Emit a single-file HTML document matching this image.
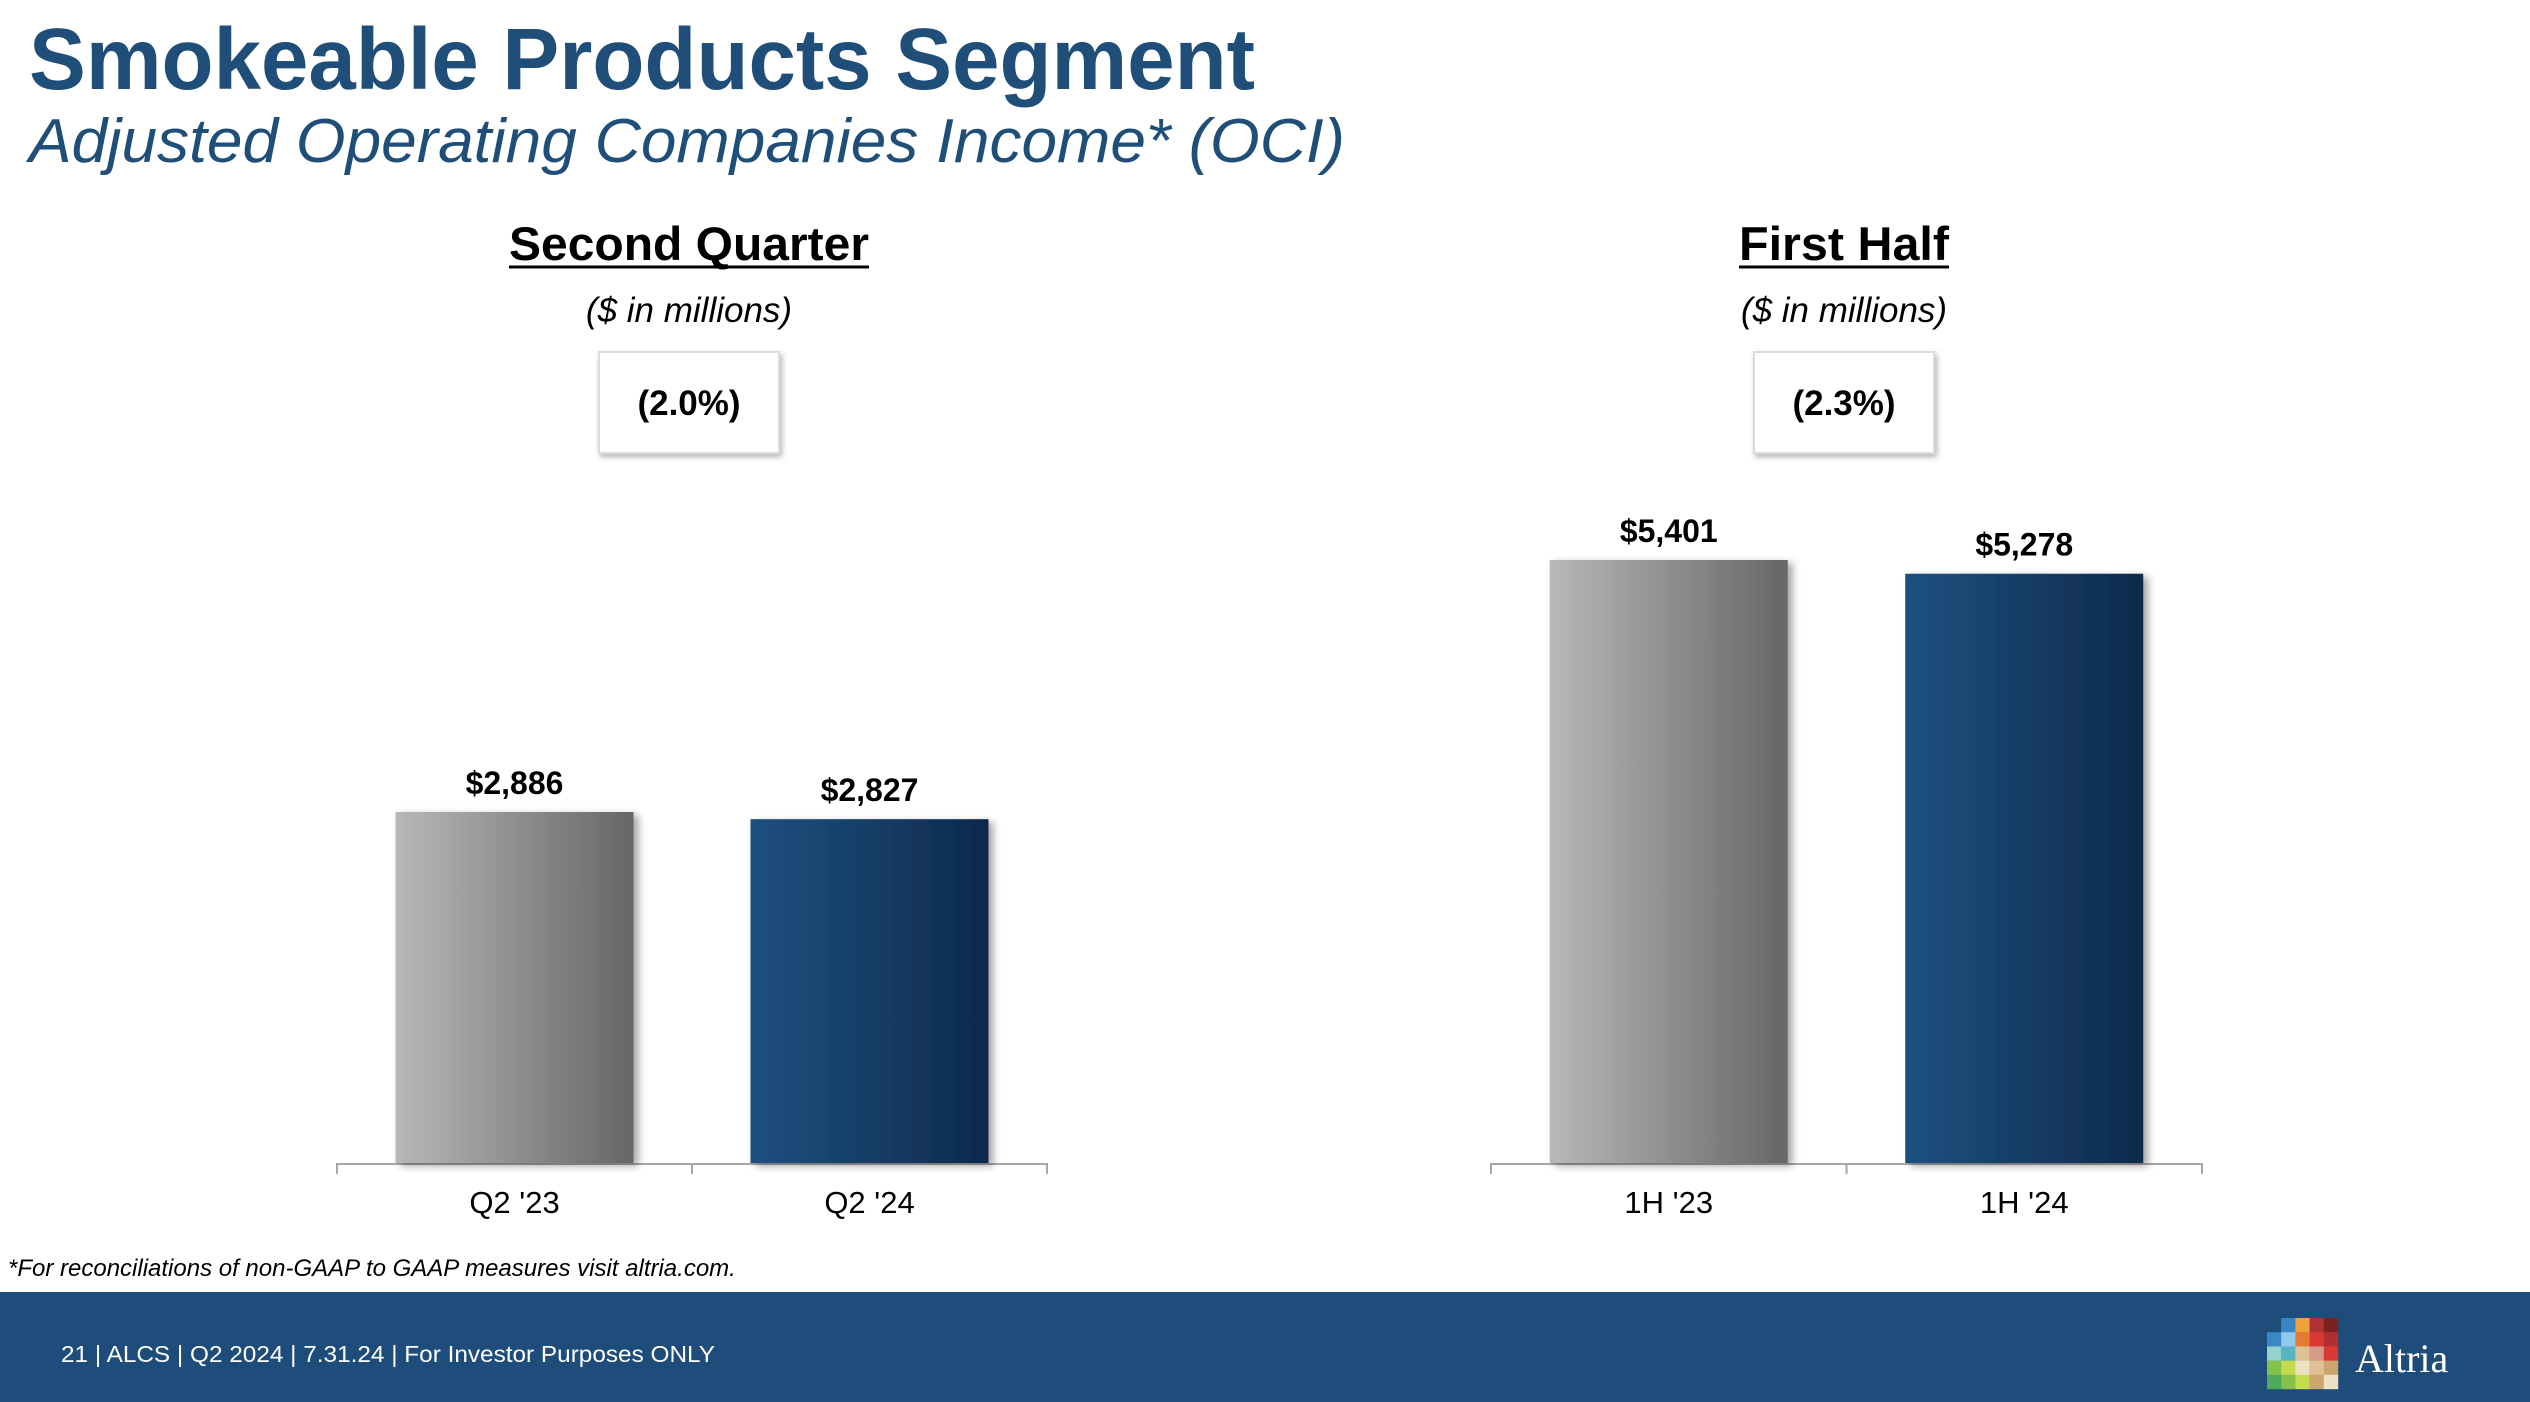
<!DOCTYPE html>
<html><head><meta charset="utf-8"><style>
html,body{margin:0;padding:0;background:#fff;width:2530px;height:1402px;overflow:hidden}
svg{display:block}
text{font-family:"Liberation Sans",Arial,sans-serif}
</style></head><body>
<svg id="s" width="2530" height="1402" viewBox="0 0 2530 1402" xmlns="http://www.w3.org/2000/svg">
<defs>
<linearGradient id="gGray" x1="0" x2="1" y1="0" y2="0"><stop offset="0" stop-color="#b8b8b8"/><stop offset="1" stop-color="#666"/></linearGradient>
<linearGradient id="gBlue" x1="0" x2="1" y1="0" y2="0"><stop offset="0" stop-color="#1f5080"/><stop offset="1" stop-color="#0d2a4c"/></linearGradient>
<filter id="sh" x="-20%" y="-20%" width="140%" height="140%"><feDropShadow dx="5" dy="3" stdDeviation="4" flood-color="#000" flood-opacity="0.35"/></filter>
<filter id="bsh" x="-20%" y="-20%" width="140%" height="140%"><feDropShadow dx="2" dy="3" stdDeviation="3" flood-color="#000" flood-opacity="0.3"/></filter>
</defs>
<text x="29" y="89" font-size="87" font-weight="bold" fill="#1f4e79" textLength="1226" lengthAdjust="spacingAndGlyphs">Smokeable Products Segment</text>
<text x="29" y="162" font-size="62" font-style="italic" fill="#1f4e79" textLength="1316" lengthAdjust="spacingAndGlyphs">Adjusted Operating Companies Income* (OCI)</text>
<g id="charts"></g>
<text x="8" y="1276" font-size="24" font-style="italic" fill="#000">*For reconciliations of non-GAAP to GAAP measures visit altria.com.</text>
<rect x="0" y="1292" width="2530" height="110" fill="#1e4d7b"/>
<text x="61" y="1362" font-size="23" fill="#fff" textLength="654" lengthAdjust="spacingAndGlyphs">21 |  ALCS | Q2 2024 | 7.31.24 | For Investor Purposes ONLY</text>
<g id="logo"></g>
<text x="2355" y="1372" font-size="40" fill="#fff" style="font-family:'Liberation Serif',serif">Altria</text>
</svg>
<script>
const categoriesQ = ["Q2 '23", "Q2 '24"];
const valuesQ = [2886, 2827];
const labelsQ = ["$2,886", "$2,827"];
const categoriesH = ["1H '23", "1H '24"];
const valuesH = [5401, 5278];
const labelsH = ["$5,401", "$5,278"];
const NS = "http://www.w3.org/2000/svg";
const root = document.getElementById('charts');
function mk(tag, attrs, parent){const e=document.createElementNS(NS,tag);for(const k in attrs)e.setAttribute(k,attrs[k]);(parent||root).appendChild(e);return e;}
function chart(cfg){
  const g = mk('g',{});
  
  
  const t = mk('text',{x:cfg.cx,y:260,'font-size':47,'font-weight':'bold','text-anchor':'middle',fill:'#000',textLength:cfg.tw,lengthAdjust:'spacingAndGlyphs'},g);
  t.textContent = cfg.title;
  
  
  mk('line',{x1:cfg.cx-cfg.tw/2,x2:cfg.cx+cfg.tw/2,y1:267,y2:267,stroke:'#000','stroke-width':3},g);
  const u = mk('text',{x:cfg.cx,y:322,'font-size':35,'font-style':'italic','text-anchor':'middle',fill:'#000'},g);
  u.textContent = '($ in millions)';
  
  
  const b = mk('rect',{x:cfg.cx-90,y:352,width:180,height:101,fill:'#fff',stroke:'#d8dde4','stroke-width':2,filter:'url(#bsh)'},g);
  
  
  const bt = mk('text',{x:cfg.cx,y:415,'font-size':35,'font-weight':'bold','text-anchor':'middle',fill:'#000'},g);
  bt.textContent = cfg.change;
  
  
  const base = 1163;
  const y = v => base - v*cfg.scale;
  const ax = mk('line',{x1:cfg.ax0,x2:cfg.ax1,y1:base+1,y2:base+1,stroke:'#a6a6a6','stroke-width':2},g);
  
  
  const step = (cfg.ax1-cfg.ax0)/cfg.cats.length;
  for(let i=0;i<=cfg.cats.length;i++){
    const x = cfg.ax0+i*step;
    const tk = mk('line',{x1:x,x2:x,y1:base,y2:base+11,stroke:'#a6a6a6','stroke-width':2},g);
    
    
  }
  cfg.vals.forEach((v,i)=>{
    const c = cfg.ax0+(i+0.5)*step;
    const w = 238;
    const r = mk('rect',{x:c-w/2,y:y(v),width:w,height:base-y(v),fill:i===0?'url(#gGray)':'url(#gBlue)',filter:'url(#sh)'},g);
    
    
    const l = mk('text',{x:c,y:y(v)-18,'font-size':32,'font-weight':'bold','text-anchor':'middle',fill:'#000'},g);
    l.textContent = cfg.labels[i];
    
    
    const cl = mk('text',{x:c,y:1213,'font-size':31,'text-anchor':'middle',fill:'#000'},g);
    cl.textContent = cfg.cats[i];
    
    
  });
}
chart({name:'second-quarter-chart',title:'Second Quarter',tw:360,change:'(2.0%)',cx:689,ax0:337,ax1:1047,scale:351/2886,cats:categoriesQ,vals:valuesQ,labels:labelsQ});
chart({name:'first-half-chart',title:'First Half',tw:210,change:'(2.3%)',cx:1844,ax0:1491,ax1:2202,scale:603/5401,cats:categoriesH,vals:valuesH,labels:labelsH});
const grid=[["#1f4e7a","#3a85c4","#eea23a","#b13232","#7d2020"],["#3a88c6","#8ecbef","#e57a35","#dc3833","#b02f30"],["#95d2cb","#57b5c0","#dfc193","#d69a88","#dc3833"],["#85c14d","#c3dc4f","#ede1c4","#dfc195","#cca56e"],["#4ea95a","#85c14d","#c3dc4f","#cca56e","#ede1c4"]];
const lg=document.getElementById('logo');
grid.forEach((row,r)=>row.forEach((c,k)=>{mk('rect',{x:2267+k*14.2,y:1318+r*14.2,width:14.4,height:14.4,fill:c},lg);}));
</script>
</body></html>
